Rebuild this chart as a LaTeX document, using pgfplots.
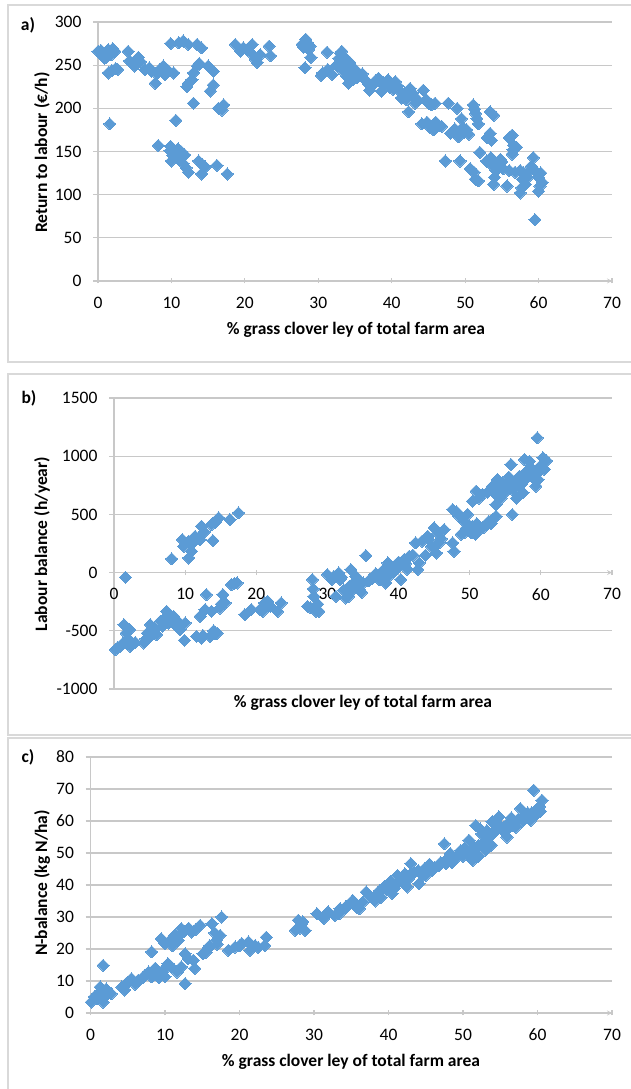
\documentclass[border=0pt]{standalone}
\usepackage{pgfplots}
\pgfplotsset{compat=1.18}
\usepackage{fontspec}
\setmainfont{Carlito}
\definecolor{mk}{HTML}{5B9BD5}
\definecolor{gridc}{HTML}{C8C8C8}
\definecolor{framec}{HTML}{D9D9D9}
\pgfplotsset{
  panel/.style={
    scale only axis,
    axis y line=left,
    axis line style={gridc, line width=1.2pt, -},
    tick style={gridc, line width=1.1pt},
    tick align=outside,
    major tick length=5pt,
    ymajorgrids,
    grid style={gridc, line width=1.2pt},
    xmin=0, xmax=70, xtick={0,10,...,70},
    tick label style={font=\fontsize{17.5}{20}\selectfont, text=black},
    /pgf/number format/assume math mode=true,
    /pgf/number format/1000 sep={},
    xticklabel style={yshift=-10pt},
    yticklabel style={xshift=-8pt},
    clip=false,
  },
  pts/.style={only marks, mark=square*, mark size=4.3pt,
    mark options={rotate=45, fill=mk, draw=mk, line width=0pt}},
}
\newcommand{\lab}{\fontsize{17.5}{20}\selectfont\bfseries}
\begin{document}
\begin{tikzpicture}
\useasboundingbox (0,0) rectangle (631pt,1089pt);
\draw[framec, line width=1.4pt] (8pt,1084pt) rectangle (645pt,727pt);
\draw[framec, line width=1.4pt] (8pt,715pt) rectangle (645pt,354pt);
\draw[framec, line width=1.4pt] (8pt,351pt) rectangle (645pt,-10pt);

% ---------- a) ----------
\begin{axis}[panel, at={(98pt,808pt)}, anchor=south west, width=514pt, height=259pt,
  axis x line=bottom, ymin=0, ymax=300, ytick={0,50,...,300}]
\addplot[pts] coordinates {
(0.0,266)(0.4,267)(0.7,262)(1.1,259)(1.4,268)(1.8,262)(2.0,269)(1.2,264)(0.9,258)(2.3,266)
(1.4,241)(2.4,246)(1.9,244)(1.6,182)(2.7,245)(0.6,262)(5.2,256)
(4.1,266)(4.3,255)(5.0,249)(5.5,259)(4.7,252)(5.8,254)(6.4,245)(7.3,243)(7.8,229)(8.4,245)
(8.9,249)(9.1,239)(10.3,241)(7.0,247)(8.0,240)(9.5,244)
(9.9,275)(11.6,278)(12.3,274)(13.5,274)(14.1,270)(11.0,276)
(13.5,249)(13.0,241)(12.3,229)(12.1,225)(13.0,206)(15.0,249)(15.7,243)(15.7,227)(15.3,220)
(16.4,200)(17.1,204)(16.9,198)(12.8,233)(13.8,252)
(10.6,186)
(8.2,157)(9.8,151)(10.0,139)(10.9,153)(10.7,147)(10.2,145)(11.3,150)(11.6,136)(12.3,126)
(12.0,131)(13.7,139)(14.1,124)(14.6,132)(14.2,135)(16.2,134)(17.6,124)(9.9,156)(11.0,141)
(10.4,150)(11.8,146)
(18.7,274)(19.4,266)(19.8,270)(21.0,274)(21.2,261)(21.7,253)(21.4,257)(23.3,272)(23.5,261)
(22.1,262)(20.3,268)
(27.8,274)(28.3,280)(28.5,276)(28.7,268)(29.0,259)(28.2,247)(28.0,271)(28.9,272)(31.2,265)
(30.6,241)(31.9,239)(31.3,245)(30.4,238)
(33.0,264)(33.2,266)(33.7,255)(33.6,259)(34.3,253)(33.4,243)(34.1,229)(34.7,233)(32.8,258)
(33.5,248)(34.5,247)(34.9,241)(35.3,236)(33.9,237)(35.0,245)(34.0,248)(33.2,252)(32.5,250)(36.0,240)
(35.9,237)(36.5,232)(37.0,221)(37.5,228)(38.2,235)(38.6,220)(39.0,226)(39.5,233)(40.0,228)
(40.5,231)(40.2,222)(41.1,220)(41.6,215)(42.5,223)(43.0,214)(42.3,196)(43.5,210)(44.3,221)
(45.0,206)(45.9,206)(41.8,218)(42.8,218)(43.2,206)
(36.8,229)(37.8,232)(38.9,230)(39.8,224)(40.8,226)(41.3,212)(42.0,210)(44.7,210)(45.4,204)
(44.1,182)(44.8,184)(45.7,175)(46.4,180)(45.2,178)(46.0,184)(46.8,179)
(47.7,206)(48.9,200)(49.5,188)(48.4,173)(49.1,167)(50.2,175)(48.0,171)(50.5,170)(49.7,178)
(48.6,176)(49.8,172)
(51.1,204)(51.4,194)(51.8,182)(51.6,188)(53.4,196)(53.9,192)(51.3,199)
(53.4,171)(53.6,163)(53.0,166)(56.4,169)(56.6,157)(56.4,147)(56.0,166)(57.0,155)(56.5,152)
(47.3,139)(49.3,139)(50.7,130)(51.4,118)(51.2,126)(51.8,116)
(52.0,149)(52.9,139)(53.9,132)(54.5,136)(53.5,143)(54.8,141)(54.2,128)(53.9,112)(54.0,120)
(55.7,110)(57.5,128)(57.7,108)(57.5,102)(58.2,112)(58.0,125)(56.8,126)(59.3,143)(59.5,128)
(59.0,133)(60.0,120)(60.5,114)(60.0,104)(60.2,110)(59.5,71)(58.5,120)
(55.2,130)(55.0,138)(57.8,118)(58.8,128)(60.3,125)(56.0,128)
};
\end{axis}

% ---------- b) ----------
\begin{axis}[panel, at={(114pt,400pt)}, anchor=south west, width=498pt, height=291pt,
  axis x line=middle, hide obscured x ticks=false, hide obscured y ticks=false,
  ymin=-1000, ymax=1500, ytick={-1000,-500,...,1500}]
\addplot[pts] coordinates {
(0.2,-662)(0.5,-645)(0.9,-634)(1.2,-610)(1.4,-447)(1.6,-40)(1.9,-605)(2.2,-490)(2.3,-634)
(1.7,-520)(2.0,-570)(3.0,-600)
(4.2,-605)(4.5,-570)(4.7,-519)(5.1,-447)(5.4,-500)(6.0,-533)(5.7,-480)(6.5,-419)(7.4,-333)
(7.7,-433)(8.0,-390)(8.4,-376)(8.8,-462)(9.3,-490)(9.0,-420)(10.0,-433)(9.9,-582)(6.8,-460)
(4.9,-560)(7.0,-400)
(11.6,-548)(12.3,-562)(12.1,-376)(12.8,-318)(13.0,-189)(13.7,-333)(13.5,-548)(14.2,-519)
(14.0,-500)(14.9,-304)(15.3,-189)(15.6,-261)(15.1,-270)(16.5,-103)(17.3,-89)(16.9,-95)
(12.5,-540)(14.5,-520)
(18.4,-361)(19.3,-318)(20.5,-318)(21.2,-261)(21.6,-247)(20.9,-333)(23.0,-333)(23.5,-261)(22.0,-290)
(27.2,-290)(27.9,-60)(28.1,-204)(28.4,-333)(28.8,-333)(28.0,-140)(28.6,-270)(27.6,-300)
(30.0,-17)(30.9,-32)(31.6,-3)(31.2,-204)(30.6,-60)(32.6,-218)(33.1,-118)(33.3,26)(33.0,-204)
(33.7,-118)(34.0,-32)(34.5,-146)(34.2,-60)(33.5,-150)(35.4,146)(35.0,-90)(32.0,-40)
(31.8,-60)(32.3,-150)(34.8,-170)(33.8,-80)
(36.3,-46)(37.0,-30)(37.7,-17)(38.2,-89)(38.5,83)(38.8,-20)(39.2,11)(39.9,40)(40.3,-60)
(40.8,112)(41.5,140)(41.0,80)(42.0,150)(42.7,26)(42.4,255)(42.9,83)(43.3,270)(44.1,312)
(45.0,384)(44.6,226)(45.3,169)(45.7,255)(46.4,370)(45.5,340)(47.6,255)(47.8,183)
(35.8,-70)(36.8,-10)(37.3,-60)(38.0,30)(39.5,60)(40.0,90)(41.2,30)(43.8,150)(44.3,280)(46.0,290)
(47.6,542)(48.2,520)(48.5,485)(49.2,441)(49.2,341)(49.7,500)(50.2,341)(50.4,399)(50.8,330)
(51.4,370)(52.3,413)(52.0,390)(53.2,456)(53.7,485)(53.0,420)
(48.8,330)(49.5,380)(50.0,400)(51.0,420)(52.7,440)
(50.4,614)(50.9,700)(51.3,640)(51.8,671)(52.5,690)(53.2,743)(53.9,800)(54.6,771)(54.2,730)
(53.7,585)(54.9,686)(54.4,640)(55.8,929)(56.0,714)(56.0,499)(56.3,786)(56.6,640)(57.0,829)
(57.5,686)(57.2,760)(57.7,971)(58.4,957)(58.0,870)(58.8,820)(59.3,743)(59.5,1158)(59.8,872)
(59.6,800)(60.3,986)(60.5,886)(60.0,920)(60.8,960)
(54.0,700)(55.2,760)(55.5,820)(56.8,740)(57.8,800)(58.6,900)(59.0,850)(60.2,900)(53.5,680)
(8.1,118)(9.6,284)(9.8,226)(10.5,270)(10.5,126)(10.9,183)(11.4,312)(11.9,298)(12.3,399)
(12.1,284)(12.7,350)(13.7,413)(13.9,275)(14.7,470)(14.2,430)(16.3,456)(17.5,513)(11.0,250)
};
\end{axis}

% ---------- c) ----------
\begin{axis}[panel, at={(90.5pt,76pt)}, anchor=south west, width=521.5pt, height=256pt,
  axis x line=bottom, ymin=0, ymax=80, ytick={0,10,...,80}]
\addplot[pts] coordinates {
(0.1,3.4)(0.8,4.5)(1.3,8.1)(1.7,14.9)(1.9,5.0)(2.4,6.6)(1.7,3.4)(1.0,6.0)(2.1,7.5)
(0.5,5.0)(2.8,6.0)
(4.2,8.1)(4.8,9.2)(4.6,7.2)(5.5,10.7)(6.4,10.2)(6.0,9.0)(7.3,11.8)(7.8,12.8)(8.2,11.3)
(8.2,19.1)(8.9,12.3)(8.7,14.0)(9.5,12.8)(10.0,11.3)(9.2,11.0)(10.4,15.4)(10.0,21.7)(9.5,23.2)
(10.7,22.7)(11.0,21.0)(11.3,24.3)(12.2,26.4)(11.8,22.7)(12.6,25.5)(11.6,12.8)(12.7,9.2)
(12.2,14.4)(12.7,18.5)(13.1,17.0)(14.0,13.9)(13.8,16.5)(13.6,25.3)(14.1,26.0)(14.7,27.4)
(15.1,18.5)(15.8,20.1)(15.5,19.0)(16.3,27.9)(16.9,22.7)(17.4,24.3)(17.0,21.5)(17.6,30.0)
(5.0,9.5)(7.0,11.0)(9.9,13.5)(10.8,14.5)(12.0,24.5)(13.2,26.5)(16.0,21.0)(16.7,25.0)
(18.5,19.6)(19.4,20.6)(20.3,21.7)(21.2,22.2)(21.4,19.6)(22.1,21.1)(23.4,21.1)(23.6,23.7)
(20.0,21.0)(22.5,20.5)
(27.5,25.8)(27.9,29.0)(28.3,27.9)(28.8,25.8)(28.5,28.5)(28.1,26.5)
(30.4,31.0)(31.3,29.5)(31.9,31.6)(32.8,30.5)(33.5,32.6)(33.4,31.0)(34.2,33.1)(34.3,33.1)
(35.1,34.7)(35.2,35.2)(35.7,33.1)(36.1,32.6)(37.0,37.8)(37.9,35.7)(38.5,37.3)(38.2,35.0)
(39.4,39.4)(40.1,40.4)(40.5,37.3)(40.8,39.0)(41.2,43.0)(41.9,40.9)(42.5,39.4)(43.0,46.7)
(43.0,43.5)(42.7,42.0)(44.1,40.4)(44.6,43.0)(45.2,45.6)(45.9,44.6)(45.5,46.5)(46.8,46.1)
(47.5,52.9)(47.7,46.7)(48.3,49.8)(49.0,48.2)(49.7,50.8)(50.6,50.3)(51.3,47.7)(50.8,54.0)
(51.7,58.6)(52.1,52.4)(52.5,56.0)(53.0,50.8)(53.5,55.5)(53.9,59.7)(54.4,57.5)(54.8,61.3)
(55.5,56.6)(55.9,55.0)(56.2,59.7)(56.5,61.0)(57.1,58.1)(57.7,63.9)(58.4,61.8)(58.0,60.0)
(59.1,60.2)(59.5,69.6)(60.0,63.9)(60.6,66.5)(60.3,64.5)(59.2,62.5)(48.5,47.0)(50.0,49.0)
(52.0,48.8)(45.0,43.0)
(36.5,34.5)(37.4,36.5)(38.8,38.2)(39.0,36.2)(39.8,38.5)(40.3,41.2)(41.5,41.5)(42.2,43.5)
(43.5,44.0)(44.0,44.5)(44.8,45.0)(46.2,45.5)(47.0,47.0)(48.0,48.5)(49.3,49.5)(50.2,51.5)
(51.0,50.5)(51.5,52.0)(52.8,53.5)(53.2,57.0)(54.0,56.0)(55.0,58.5)(56.0,57.5)(56.8,58.5)
(57.4,60.5)(58.7,62.5)(59.8,62.0)(60.4,63.0)(52.3,57.5)(53.8,52.5)(51.0,49.0)
};
\end{axis}

% labels
\node[font=\lab] at (28pt,1064pt) {a)};
\node[font=\lab] at (29pt,691pt) {b)};
\node[font=\lab] at (28pt,332pt) {c)};
\node[font=\lab, rotate=90] at (42pt,936.5pt) {Return to labour (€/h)};
\node[font=\lab, rotate=90] at (42pt,545pt) {Labour balance (h/year)};
\node[font=\lab, rotate=90] at (42pt,206pt) {N-balance (kg N/ha)};
\node[font=\lab] at (356pt,759pt) {\% grass clover ley of total farm area};
\node[font=\lab] at (363pt,386pt) {\% grass clover ley of total farm area};
\node[font=\lab] at (351pt,27pt) {\% grass clover ley of total farm area};
\end{tikzpicture}
\end{document}
